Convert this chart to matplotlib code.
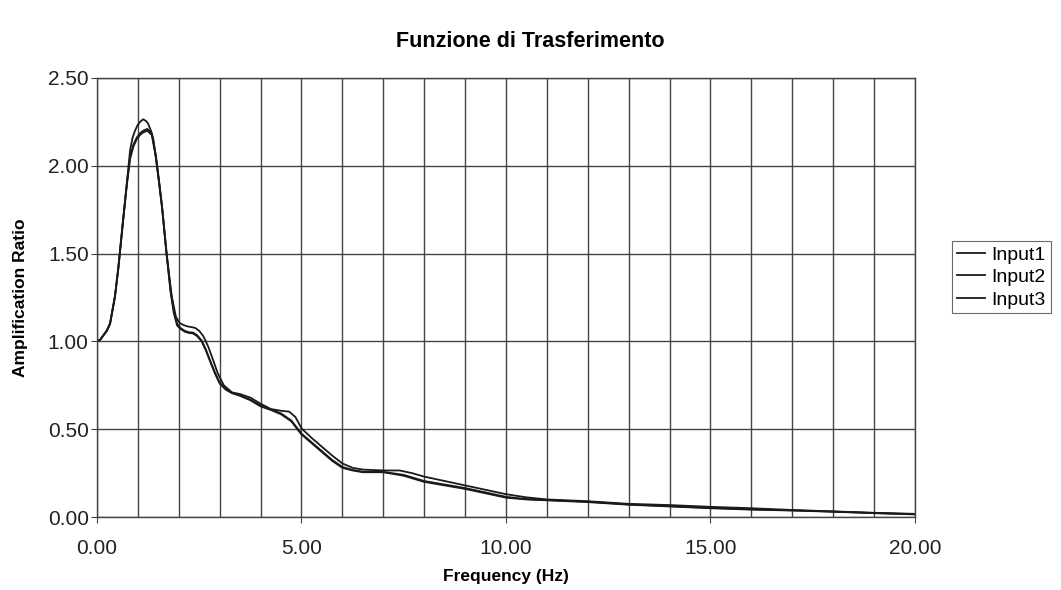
import numpy as np
import matplotlib
matplotlib.use("Agg")
import matplotlib.pyplot as plt
from matplotlib.ticker import MultipleLocator, FormatStrFormatter

plt.rcParams["font.family"] = ["Liberation Sans", "DejaVu Sans"]

# -----------------------------
# Data
# -----------------------------
freq1 = [0, 0.08, 0.16, 0.24, 0.32, 0.44, 0.52, 0.64, 0.73, 0.81, 0.89, 0.97,
         1.05, 1.13, 1.23, 1.34, 1.44, 1.52, 1.60, 1.70, 1.80, 1.88, 1.96,
         2.05, 2.15, 2.25, 2.35, 2.45, 2.56, 2.66, 2.76, 2.88, 3.0, 3.15, 3.3,
         3.5, 3.75, 4.0, 4.25, 4.5, 4.75, 5.0, 5.25, 5.5, 5.75, 6.0, 6.25,
         6.5, 7.0, 7.5, 8.0, 8.5, 9.0, 9.5, 10.0, 10.5, 11.0, 12.0, 13.0,
         14.0, 15.0, 16.0, 17.0, 18.0, 19.0, 20.0]
input1 = [1.00, 1.01, 1.035, 1.06, 1.10, 1.255, 1.41, 1.69, 1.89, 2.04, 2.11,
          2.15, 2.175, 2.19, 2.20, 2.175, 2.05, 1.90, 1.74, 1.50, 1.28, 1.16,
          1.09, 1.07, 1.055, 1.048, 1.045, 1.03, 1.00, 0.95, 0.89, 0.82, 0.76,
          0.725, 0.705, 0.69, 0.665, 0.63, 0.61, 0.585, 0.545, 0.47, 0.42,
          0.37, 0.32, 0.28, 0.265, 0.255, 0.255, 0.235, 0.20, 0.18, 0.16,
          0.135, 0.11, 0.10, 0.095, 0.085, 0.07, 0.06, 0.05, 0.042, 0.037,
          0.03, 0.022, 0.015]

freq2 = [0, 0.08, 0.16, 0.24, 0.32, 0.44, 0.52, 0.64, 0.73, 0.81, 0.87, 0.93,
         0.99, 1.05, 1.13, 1.20, 1.25, 1.32, 1.38, 1.46, 1.52, 1.58, 1.70,
         1.83, 1.93, 2.02, 2.10, 2.20, 2.30, 2.40, 2.50, 2.60, 2.72, 2.84,
         2.95, 3.1, 3.3, 3.5, 3.75, 4.0, 4.25, 4.5, 4.7, 4.85, 5.0, 5.25, 5.5,
         5.75, 6.0, 6.25, 6.5, 7.0, 7.4, 7.7, 8.0, 8.5, 9.0, 9.5, 10.0, 10.5,
         11.0, 12.0, 13.0, 14.0, 15.0, 16.0, 17.0, 18.0, 19.0, 20.0]
input2 = [1.00, 1.01, 1.035, 1.06, 1.10, 1.255, 1.41, 1.69, 1.90, 2.09, 2.16,
          2.20, 2.23, 2.25, 2.265, 2.255, 2.24, 2.20, 2.15, 2.01, 1.90, 1.79,
          1.50, 1.255, 1.14, 1.105, 1.095, 1.086, 1.082, 1.077, 1.06, 1.03,
          0.97, 0.894, 0.82, 0.75, 0.71, 0.70, 0.68, 0.645, 0.615, 0.605,
          0.60, 0.57, 0.505, 0.45, 0.40, 0.35, 0.305, 0.28, 0.27, 0.265,
          0.265, 0.25, 0.23, 0.205, 0.18, 0.155, 0.13, 0.112, 0.10, 0.09,
          0.075, 0.068, 0.058, 0.05, 0.04, 0.032, 0.024, 0.018]

freq3 = freq1
input3 = [1.00, 1.01, 1.036, 1.062, 1.105, 1.26, 1.42, 1.70, 1.90, 2.05, 2.12,
          2.16, 2.185, 2.20, 2.21, 2.185, 2.06, 1.91, 1.75, 1.51, 1.29, 1.17,
          1.10, 1.075, 1.06, 1.052, 1.05, 1.035, 1.005, 0.955, 0.895, 0.825,
          0.765, 0.728, 0.708, 0.692, 0.668, 0.635, 0.612, 0.59, 0.55, 0.475,
          0.425, 0.375, 0.325, 0.285, 0.268, 0.258, 0.257, 0.24, 0.205, 0.185,
          0.165, 0.14, 0.115, 0.102, 0.097, 0.087, 0.072, 0.062, 0.052, 0.044,
          0.038, 0.031, 0.023, 0.016]

labels = ["Input1", "Input2", "Input3"]


def main():
    fig = plt.figure(figsize=(10.61, 5.9), dpi=100)
    ax = fig.add_axes([0.0914, 0.1237, 0.771, 0.7441])

    for f, v, lab in zip([freq1, freq2, freq3], [input1, input2, input3], labels):
        ax.plot(f, v, color="#1a1a1a", lw=1.3, label=lab)

    ax.set_xlim(0, 20)
    ax.set_ylim(0, 2.5)
    ax.xaxis.set_major_locator(MultipleLocator(5))
    ax.xaxis.set_minor_locator(MultipleLocator(1))
    ax.yaxis.set_major_locator(MultipleLocator(0.5))
    ax.xaxis.set_major_formatter(FormatStrFormatter("%.2f"))
    ax.yaxis.set_major_formatter(FormatStrFormatter("%.2f"))
    ax.grid(True, which="both", axis="x", color="#444444", lw=1.0)
    ax.grid(True, which="major", axis="y", color="#444444", lw=1.0)
    ax.set_axisbelow(True)
    ax.tick_params(axis="both", which="major", labelsize=15, length=4,
                   color="#444444", labelcolor="#222222")
    ax.tick_params(axis="x", which="minor", length=0)
    ax.tick_params(axis="x", pad=12)
    ax.tick_params(axis="y", pad=2)
    for s in ax.spines.values():
        s.set_color("#444444")
        s.set_linewidth(1.0)

    ax.set_xlabel("Frequency (Hz)", fontsize=12.5, fontweight="bold", labelpad=8)
    ax.set_ylabel("Amplification Ratio", fontsize=12.5, fontweight="bold", labelpad=14)
    fig.suptitle("Funzione di Trasferimento", x=0.5, y=0.948, fontsize=15.5,
                 fontweight="bold")

    leg = fig.legend(loc="center left", bbox_to_anchor=(0.897, 0.53),
                     fontsize=14, frameon=True, fancybox=False,
                     handlelength=1.45, handletextpad=0.35, borderpad=0.25,
                     labelspacing=0.25, borderaxespad=0)
    leg.get_frame().set_edgecolor("#444444")
    leg.get_frame().set_linewidth(0.8)

    fig.savefig("out.png", dpi=100, facecolor="white")


if __name__ == "__main__":
    main()
